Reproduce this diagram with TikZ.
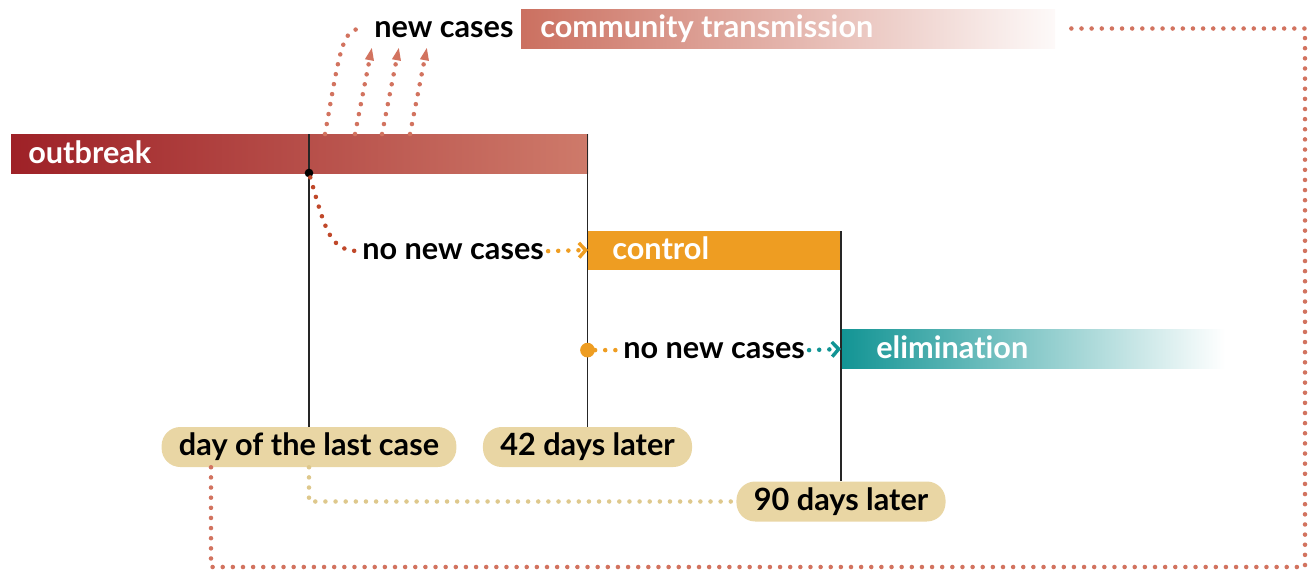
\documentclass[tikz,border=0pt]{standalone}
\usepackage{fontspec}
\setmainfont{Lato}[Ligatures=NoCommon]
\usetikzlibrary{arrows.meta,calc}
\definecolor{outdark}{RGB}{158,33,39}
\definecolor{outlight}{RGB}{206,122,106}
\definecolor{commred}{RGB}{203,112,96}
\definecolor{ctrlorange}{RGB}{238,157,34}
\definecolor{elimteal}{RGB}{18,148,148}
\definecolor{pillcol}{RGB}{233,214,164}
\definecolor{salmon}{RGB}{210,115,95}
\definecolor{rust}{RGB}{192,72,42}
\definecolor{tandot}{RGB}{222,200,140}

\begin{document}
\begin{tikzpicture}[x=0.75pt,y=-0.75pt,
bar/.style={anchor=west,minimum height=29.25pt,inner sep=0pt,outer sep=0pt},
bartext/.style={anchor=base west,text=white,inner sep=0pt,font=\bfseries\fontsize{23}{27}\selectfont},
lbl/.style={anchor=base west,inner xsep=3pt,font=\bfseries\fontsize{23}{27}\selectfont},
pill/.style={fill=pillcol,rounded corners=14pt,minimum height=30pt,inner xsep=13pt,font=\bfseries\fontsize{23}{27}\selectfont},
dots/.style={line width=3.4pt,line cap=round,dash pattern=on 0pt off 7.6pt},
chev/.style={-{Straight Barb[length=5pt,width=11pt,line width=2.6pt]}},
vline/.style={draw=black!85,line width=1pt}]
\useasboundingbox (0,0) rectangle (1311,572);

% bars
\node[bar,left color=outdark,right color=outlight,minimum width=432.75pt] (outbreak) at (11,153.5) {};
\node[bar,left color=commred,right color=commred!4,minimum width=400.5pt] (comm) at (521,28.5) {};
\node[bar,fill=ctrlorange,minimum width=189.75pt] (control) at (588,250) {};
\node[bar,left color=elimteal,right color=white,minimum width=288pt] (elimination) at (841,349) {};

\node[bartext] (outbreaklbl) at (28,163) {outbreak};
\node[bartext] (commlbl) at (540,37) {community transmission};
\node[bartext] (controllbl) at (612,259) {control};
\node[bartext] (elimlbl) at (876,358) {elimination};

% labels
\node[lbl] (newc) at (370,37) {new cases};
\node[lbl] (nnc1) at (358,259) {no new cases};
\node[lbl] (nnc2) at (619,358) {no new cases};

\node[pill] (lastcase) at (309,447) {day of the last case};
\node[pill] (later42) at (587.5,447) {42 days later};
\node[pill] (later90) at (841,501.5) {90 days later};

% time lines
\draw[vline] (lastcase.north) -- (lastcase.north |- outbreak.north);
\draw[vline] (later42.north) -- (later42.north |- outbreak.north);
\draw[vline] (later90.north) -- (later90.north |- control.north);
\node[circle,fill=black,inner sep=0pt,minimum size=6.5pt] (lastdot) at (lastcase.north |- outbreak.south) {};
\node[circle,fill=ctrlorange,inner sep=0pt,minimum size=11pt] (ctrldot) at (later42.north |- nnc2) {};

% connectors
\draw[dots,rust] (lastdot) .. controls (326,232) and (330,250) .. (nnc1.west);
\draw[dots,ctrlorange,chev] (nnc1.east) -- (control.west);
\draw[dots,ctrlorange] (ctrldot) -- (nnc2.west);
\draw[dots,elimteal,chev] (nnc2.east) -- (elimination.west);
\draw[dots,tandot] (lastcase.south) |- (later90.west);

\coordinate (loopstart) at ($(lastcase.south)+(-98,0)$);
\coordinate (loopcorner) at (1305,567);
\coordinate (loopend) at ($(comm.east)+(10,0)$);
\draw[dots,salmon] (loopstart) |- (loopcorner) |- (loopend);

% new cases
\coordinate (nc0) at (325,134);
\draw[dots,salmon,shorten >=6pt] (nc0) .. controls (340,50) and (342,28) .. (newc.west);
\foreach \i/\x in {1/355,2/382,3/410}{
  \coordinate (ncfoot\i) at (\x,134);
  \coordinate (nctip\i) at (\x+17,47);
  \draw[dots,salmon,-{Triangle[length=10pt,width=6pt]}] (ncfoot\i) -- (nctip\i);
}
\end{tikzpicture}
\end{document}
